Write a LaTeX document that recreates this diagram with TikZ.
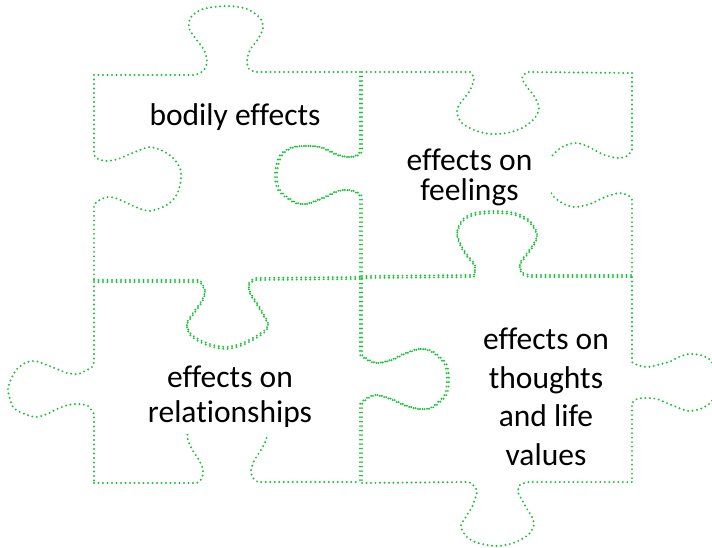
\documentclass[tikz,border=0pt]{standalone}
\usepackage{fontspec}
\setmainfont{Carlito}[Ligatures=NoCommon]
\definecolor{puzzlegreen}{RGB}{25,195,55}

% piece edges, in pixel units (y downwards)
\newcommand{\rimTopLeft}{(94,75) -- (195,75) -- plot[smooth] coordinates {(195,75) (203,71) (207,62) (204,50) (196,39) (189,28) (191,17) (203,9) (227,6) (247,9) (260,18) (263,28) (258,39) (250,50) (247,61) (249,69) (256,72)} -- (360,72)}
\newcommand{\rimLeftUpper}{(94,75) -- (94,155) -- plot[smooth] coordinates {(94,155) (98,159) (107,161) (118,159) (130,154) (140,150) (150,147) (163,151) (173,158) (180,168) (181,179) (178,192) (172,201) (163,207) (150,211) (138,208) (125,202) (115,198) (107,197) (98,201) (94,205)} -- (94,280)}
\newcommand{\seamUpper}{(360,72) -- (360,152) -- plot[smooth] coordinates {(360,152) (355,156) (347,157) (337,155) (322,148) (310,146) (293,147) (280,155) (275,173) (278,190) (293,202) (305,204) (322,198) (337,191) (347,190) (355,192) (360,196)} -- (360,277)}
\newcommand{\seamLeft}{(94,280) -- (200,280) -- plot[smooth] coordinates {(200,280) (205,290) (202,300) (193,313) (187,323) (190,333) (200,340) (213,345) (227,347) (240,344) (253,338) (265,330) (268,323) (263,313) (257,303) (250,292) (249,283) (255,278)} -- (360,277)}
\newcommand{\rimTopRight}{(360,72) -- (468,72) -- plot[smooth] coordinates {(468,72) (472,79) (467,92) (457,105) (455,113) (460,123) (472,130) (488,134) (505,133) (520,128) (532,119) (537,108) (532,96) (525,87) (520,78) (525,72)} -- (630,73)}
\newcommand{\rimRightUpper}{(630,73) -- (630,150) -- plot[smooth] coordinates {(630,150) (625,156) (615,158) (600,154) (585,146) (573,143) (560,147) (550,156) (545,166) (544,176) (546,187) (552,197) (562,204) (573,207) (588,204) (603,197) (617,193) (627,196) (630,200)} -- (630,275)}
\newcommand{\seamRight}{(360,276) -- (472,275) -- plot[smooth] coordinates {(472,275) (473,265) (467,257) (460,247) (455,233) (460,220) (472,213) (493,211) (513,213) (527,220) (535,233) (532,243) (525,253) (518,263) (520,272) (527,275)} -- (630,275)}
\newcommand{\seamLower}{(360,277) -- (360,353) -- plot[smooth] coordinates {(360,353) (367,358) (375,361) (383,360) (393,357) (403,352) (418,347) (430,349) (438,355) (445,363) (447,378) (445,392) (438,400) (430,406) (418,407) (403,403) (390,397) (375,393) (365,397) (360,402)} -- (360,482)}
\newcommand{\rimRightLower}{(630,275) -- (630,360) -- plot[smooth] coordinates {(630,360) (635,363) (645,365) (655,363) (667,360) (677,355) (687,352) (698,353) (707,357) (713,366) (716,380) (713,394) (707,402) (698,407) (687,409) (677,406) (667,402) (655,397) (645,396) (635,397) (630,401)} -- (630,480)}
\newcommand{\rimBottomRight}{(360,481) -- (467,480) -- plot[smooth] coordinates {(467,480) (473,485) (475,490) (473,497) (470,505) (465,513) (459,523) (460,528) (465,535) (473,540) (485,543) (496,544) (508,542) (518,538) (527,532) (532,523) (530,515) (525,507) (520,498) (516,490) (518,483) (527,480)} -- (630,480)}
\newcommand{\rimBottomLeft}{(94,481) -- (197,481) -- plot[smooth] coordinates {(197,481) (202,476) (203,468) (199,458) (193,449) (188,438) (188,428) (194,418) (206,411) (228,408) (250,411) (262,418) (267,428) (266,438) (261,448) (254,459) (251,469) (253,476) (258,480)} -- (360,480)}
\newcommand{\rimLeftLower}{(94,280) -- (94,360) -- plot[smooth] coordinates {(94,360) (92,365) (85,369) (78,372) (67,371) (57,367) (47,363) (35,359) (25,361) (17,367) (12,375) (8,387) (10,397) (13,405) (20,410) (35,415) (47,412) (57,407) (68,403) (78,402) (88,404) (94,412)} -- (94,481)}

\tikzset{
  piecedots/.style={draw=puzzlegreen, line width=2.2pt, line cap=round, dash pattern=on 0pt off 4.5pt},
  piecelabel/.style={fill=white, inner sep=2pt, align=center, text=black, font=\fontsize{31.5}{38.5}\selectfont}
}

\begin{document}
\begin{tikzpicture}[x=1pt, y=-1pt]
  \clip (0,0) rectangle (712,547);
  \fill[white] (0,0) rectangle (712,547);
  % the four pieces
  \draw[piecedots] \rimTopLeft \rimLeftUpper \seamUpper \seamLeft;
  \draw[piecedots, shift={(2,0)}] \rimTopRight \rimRightUpper \seamUpper \seamRight;
  \draw[piecedots, shift={(0,2)}] \rimLeftLower \rimBottomLeft \seamLeft \seamLower;
  \draw[piecedots, shift={(2,2)}] \rimRightLower \rimBottomRight \seamRight \seamLower;
  % labels
  \node[piecelabel] (bodily) at (235,117) {bodily effects};
  \node[piecelabel, inner sep=0pt, minimum width=163pt, minimum height=64pt,
        font=\fontsize{31.5}{30}\selectfont] (feelings) at (469.5,177) {effects on\\feelings};
  \node[piecelabel, inner sep=0pt, minimum width=180pt, minimum height=74pt,
        font=\fontsize{31.5}{35}\selectfont] (relations) at (230,397) {effects on\\relationships};
  \node[piecelabel] (thoughts) at (546,397) {effects on\\thoughts\\and life\\values};
\end{tikzpicture}
\end{document}
